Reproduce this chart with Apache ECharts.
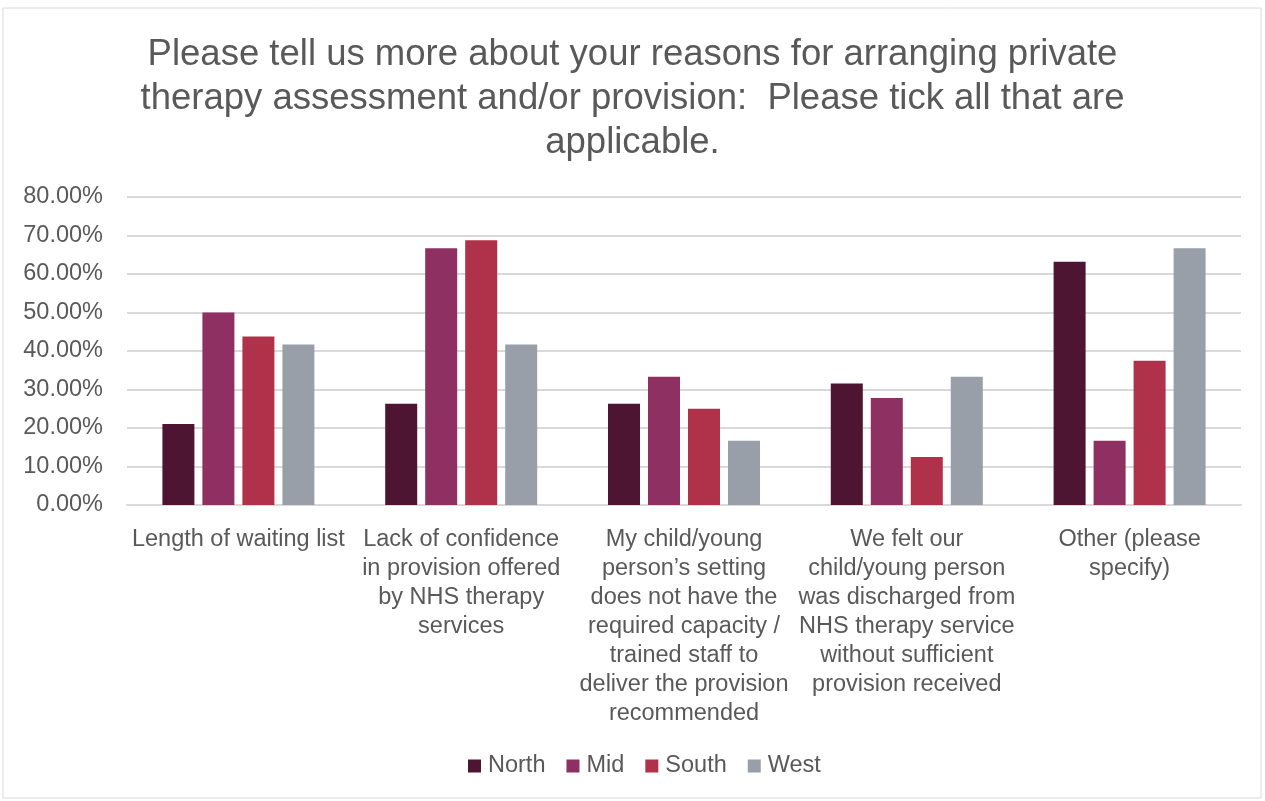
<!DOCTYPE html>
<html>
<head>
<meta charset="utf-8">
<script src="https://cdn.jsdelivr.net/npm/echarts@6/dist/echarts.min.js"></script>
<style>
  html, body { margin: 0; padding: 0; background: #fff; }
  #chart { width: 1265px; height: 801px; }
</style>
</head>
<body>
<div id="chart"></div>
<script>
// Reasons for arranging private therapy, share of respondents by region
const categories = [
  'Length of waiting list',
  'Lack of confidence\nin provision offered\nby NHS therapy\nservices',
  'My child/young\nperson\u2019s setting\ndoes not have the\nrequired capacity /\ntrained staff to\ndeliver the provision\nrecommended',
  'We felt our\nchild/young person\nwas discharged from\nNHS therapy service\nwithout sufficient\nprovision received',
  'Other (please\nspecify)'
];
const north = [21.05, 26.32, 26.32, 31.58, 63.16];
const mid   = [50.00, 66.67, 33.33, 27.78, 16.67];
const south = [43.75, 68.75, 25.00, 12.50, 37.50];
const west  = [41.67, 41.67, 16.67, 33.33, 66.67];
const seriesNames = ['North', 'Mid', 'South', 'West'];
const seriesColors = ['#4E1532', '#8E3062', '#B0324A', '#989FA8'];
const titleText = 'Please tell us more about your reasons for arranging private\ntherapy assessment and/or provision:  Please tick all that are\napplicable.';

const font = 'Liberation Sans, Arial, sans-serif';
const textColor = '#595959';
const chart = echarts.init(document.getElementById('chart'));

const values = [north, mid, south, west];
chart.setOption({
  animation: false,
  backgroundColor: '#fff',
  graphic: [{
    type: 'rect',
    shape: { x: 3, y: 8, width: 1258, height: 790 },
    style: { fill: 'none', stroke: '#d9d9d9', lineWidth: 1 },
    silent: true
  }],
  title: {
    text: titleText,
    left: 'center',
    top: 28,
    textStyle: {
      fontFamily: font, fontSize: 36.5, fontWeight: 'normal',
      color: textColor, lineHeight: 44, align: 'center'
    }
  },
  legend: {
    bottom: 18,
    left: 463,
    itemWidth: 13,
    itemHeight: 13,
    itemGap: 21,
    icon: 'rect',
    textStyle: { fontFamily: font, fontSize: 23.5, color: textColor, padding: [0, 0, 0, 2] },
    data: seriesNames
  },
  grid: { left: 127, right: 24, top: 197, bottom: 296, containLabel: false },
  xAxis: {
    type: 'category',
    data: categories,
    axisLine: { lineStyle: { color: '#d9d9d9', width: 2 } },
    axisTick: { show: false },
    axisLabel: {
      fontFamily: font, fontSize: 23.5, color: textColor,
      lineHeight: 29, margin: 20, interval: 0, align: 'center'
    }
  },
  yAxis: {
    type: 'value',
    min: 0, max: 80, interval: 10,
    axisLine: { show: false },
    axisTick: { show: false },
    splitLine: { lineStyle: { color: '#d9d9d9', width: 2 } },
    axisLabel: {
      fontFamily: font, fontSize: 23.5, color: textColor, margin: 24,
      formatter: v => v.toFixed(2) + '%'
    }
  },
  series: seriesNames.map((name, i) => ({
    name,
    type: 'bar',
    data: values[i],
    barWidth: 32,
    barGap: '25%',
    itemStyle: { color: seriesColors[i] }
  }))
});
</script>
</body>
</html>
